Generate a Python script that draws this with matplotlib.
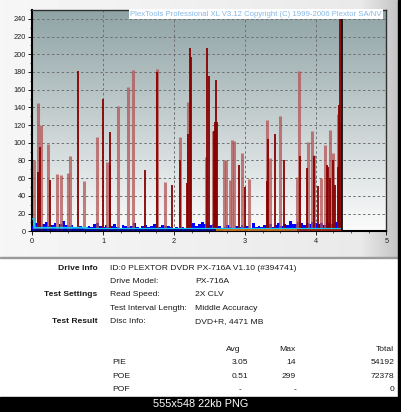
import numpy as np
import matplotlib
matplotlib.use("Agg")
import matplotlib.pyplot as plt
from matplotlib.patches import Rectangle
from matplotlib.ticker import MultipleLocator

# ---------------- data ----------------
dark_x = [0.075, 0.11, 0.254, 0.65, 1.0, 1.09, 1.10, 1.59, 1.765, 1.97, 2.08, 2.18, 2.20, 2.22,
          2.235, 2.47, 2.49, 2.57, 2.585, 2.60, 2.61, 2.92, 2.998, 3.31, 3.33, 3.43, 3.56, 3.775,
          3.88, 3.98, 4.04, 4.16, 4.175, 4.20, 4.25, 4.27, 4.32, 4.33, 4.345]
dark_v = [67, 95, 58, 181, 150, 112, 75, 69, 180, 52, 80, 54, 110, 207,
          197, 207, 175, 113, 124, 171, 124, 75, 50, 57, 104, 110, 80, 85,
          71, 85, 51, 75, 73, 60, 80, 52, 73, 143, 299]
light_x = [0.028, 0.085, 0.12, 0.217, 0.344, 0.405, 0.51, 0.53, 0.73, 0.92, 1.06, 1.21, 1.35, 1.42,
           1.76, 1.87, 2.09, 2.20, 2.45, 2.55, 2.71, 2.73, 2.79, 2.82, 2.85, 2.96, 3.06, 3.32,
           3.36, 3.50, 3.74, 3.77, 3.89, 3.95, 3.98, 4.07, 4.13, 4.20, 4.24, 4.31, 4.35]
light_v = [80, 145, 120, 99, 65, 64, 66, 85, 57, 107, 78, 141, 163, 182,
           183, 56, 106, 146, 84, 113, 81, 80, 58, 103, 102, 88, 59, 126,
           83, 130, 61, 181, 101, 113, 86, 60, 97, 115, 88, 132, 125]
pie_step = 0.04
pie_v = [6, 9, 7, 6, 8, 11, 6, 7, 9, 5, 8, 12, 7,
         6, 7, 5, 5, 6, 4, 5, 6,
         5, 8, 9, 6, 5, 7, 5, 6, 8, 5, 4, 7, 6, 5, 6, 9, 5, 4, 6, 7, 5, 6, 8, 5, 5, 7, 6, 6, 5,
         4, 5, 3, 5, 4,
         7, 8, 9, 6, 8, 10, 8, 9, 7, 8,
         5, 6, 4, 5, 7, 5, 4, 6, 5, 7, 5, 6, 4, 9, 5, 6, 5,
         7, 6, 8, 5, 7, 9, 6, 8, 7, 12, 8,
         8, 10, 9, 7, 9, 8, 10, 9, 8, 9, 7, 10, 9, 8, 10, 9, 11]
cyan_x = [0, 0.02, 0.03, 0.77, 0.77, 4.37]
cyan_v = [14, 14, 4.0, 4.0, 2.8, 2.8]
seg_start = [0, 2.6, 3.73]
seg_end = [2.6, 3.73, 4.37]
seg_color = ["#000080", "#d07000", "#a02000"]
end_x = 4.37
x_ticks = [0, 1, 2, 3, 4, 5]
y_ticks = list(range(0, 241, 20))
title = "PlexTools Professional XL V3.12 Copyright (C) 1999-2006 Plextor SA/NV"

bold_labels = [("Drive Info", 268.3), ("Test Settings", 295.0), ("Test Result", 321.7)]
col2 = [("ID:0 PLEXTOR DVDR PX-716A V1.10 (#394741)", 268.3), ("Drive Model:", 281.7),
        ("Read Speed:", 295.0), ("Test Interval Length:", 308.3), ("Disc Info:", 321.7)]
col3 = [("PX-716A", 281.7), ("2X CLV", 295.0), ("Middle Accuracy", 308.3), ("DVD+R, 4471 MB", 321.7)]
stat_rows = ["PIE", "POE", "POF"]
stat_avg = ["3.05", "0.51", "-"]
stat_max = ["14", "299", "-"]
stat_total = ["54192", "72378", "0"]

# ---------------- figure ----------------
W, H = 402, 412
plt.rcParams['font.family'] = ['Liberation Sans', 'DejaVu Sans']
fig = plt.figure(figsize=(W / 100, H / 100), dpi=100)
fig.patch.set_facecolor("white")

def fx(px):
    return px / W

def fy(py):
    return 1 - py / H

# top grey panel
bg = fig.add_axes([0, fy(258), fx(398), 258 / H], zorder=0)
gx = np.concatenate([np.linspace(0.965, 0.915, 360), np.linspace(0.915, 0.77, 38)])
bg.imshow(np.tile(gx, (10, 1)), cmap="gray", vmin=0, vmax=1, aspect="auto",
          extent=[0, 1, 0, 1])
bg.set_axis_off()
fig.patches.append(Rectangle((0, fy(258)), fx(398), 1 / H, transform=fig.transFigure,
                             color="#9a9a9a", zorder=1))

ax = fig.add_axes([fx(32.3), fy(231.3), fx(354.2), 221.3 / H], zorder=2)
top = np.array([143, 163, 165]) / 255
bot = np.array([252, 252, 252]) / 255
t = np.linspace(0, 1, 256)[:, None]
grad = top[None, :] * (1 - t) + bot[None, :] * t
ax.imshow(grad[:, None, :].repeat(4, axis=1), extent=[0, 1, 0, 1], transform=ax.transAxes,
          aspect="auto", zorder=0)

ax.set_xlim(0, 5)
ax.set_ylim(0, 250)
ax.set_xticks(x_ticks)
ax.set_yticks(y_ticks)
ax.xaxis.set_minor_locator(MultipleLocator(0.25))
ax.yaxis.set_minor_locator(MultipleLocator(10))
ax.grid(True, which="major", color="#707070", linestyle=(0, (2.5, 2.5)), linewidth=0.7, zorder=1)
ax.tick_params(which="major", direction="out", length=3, width=0.7, labelsize=5.3,
               colors="#202020", pad=1.5)
ax.tick_params(which="minor", direction="out", length=1.5, width=0.6, colors="#404040")
for s in ["left", "bottom"]:
    ax.spines[s].set_linewidth(1.5)
    ax.spines[s].set_color("black")
for s in ["top", "right"]:
    ax.spines[s].set_linewidth(1.0)
    ax.spines[s].set_color("#303030")

# PIE fill
pie_x = np.arange(len(pie_v)) * pie_step
ax.fill_between(pie_x, 0, pie_v, step="mid", color="#0000ff", linewidth=0, zorder=3)
# bars
ax.vlines(light_x, 0, light_v, color=(0.70, 0.33, 0.33), alpha=0.75, linewidth=2.2, zorder=4)
ax.vlines(dark_x, 0, dark_v, color="#880000", linewidth=1.3, zorder=5)
# cyan line and bottom segments
ax.plot(cyan_x, cyan_v, color="#18c8f0", linewidth=1.3, zorder=6, solid_capstyle="butt")
for a, b, c in zip(seg_start, seg_end, seg_color):
    ax.plot([a, b], [1.0, 1.0], color=c, linewidth=1.2, zorder=6, solid_capstyle="butt")
ax.axvline(end_x, color="black", linewidth=1.2, zorder=7)

ax.text(0.987, 0.997, title, transform=ax.transAxes, ha="right", va="top", fontsize=5.6,
        color="#86b8e6", zorder=8,
        bbox=dict(facecolor="white", edgecolor="none", pad=1.1))

# ---------------- table text ----------------
tc = "#1a1a1a"
fs = 6.1
for s, y in bold_labels:
    fig.text(fx(97.7), fy(y), s, ha="right", va="center", fontsize=fs, fontweight="bold", color=tc)
for s, y in col2:
    fig.text(fx(110), fy(y), s, ha="left", va="center", fontsize=fs, color=tc)
for s, y in col3:
    fig.text(fx(195), fy(y), s, ha="left", va="center", fontsize=fs, color=tc)
fig.text(fx(240.7), fy(349.3), "Avg", ha="right", va="center", fontsize=fs, color=tc)
fig.text(fx(295.7), fy(349.3), "Max", ha="right", va="center", fontsize=fs, color=tc)
fig.text(fx(394.3), fy(349.3), "Total", ha="right", va="center", fontsize=fs, color=tc)
for i, (r, a, m, tt) in enumerate(zip(stat_rows, stat_avg, stat_max, stat_total)):
    y = 362.7 + i * 13.3
    fig.text(fx(112.3), fy(y), r, ha="left", va="center", fontsize=fs, color=tc)
    fig.text(fx(248.3) if a != "-" else fx(241.5), fy(y), a, ha="right", va="center", fontsize=fs, color=tc)
    fig.text(fx(295.5) if m != "-" else fx(297), fy(y), m, ha="right", va="center", fontsize=fs, color=tc)
    fig.text(fx(394.3), fy(y), tt, ha="right", va="center", fontsize=fs, color=tc)

# black strips
fig.patches.append(Rectangle((0, 0), 1, 15 / H, transform=fig.transFigure, color="black", zorder=10))
fig.patches.append(Rectangle((fx(398.5), 0), 1, 1, transform=fig.transFigure, color="black", zorder=10))
fig.text(0.4988, fy(404.3), "555x548 22kb PNG", ha="center", va="center", fontsize=7.8,
         color="white", zorder=11)

fig.savefig("out.png", dpi=100)
